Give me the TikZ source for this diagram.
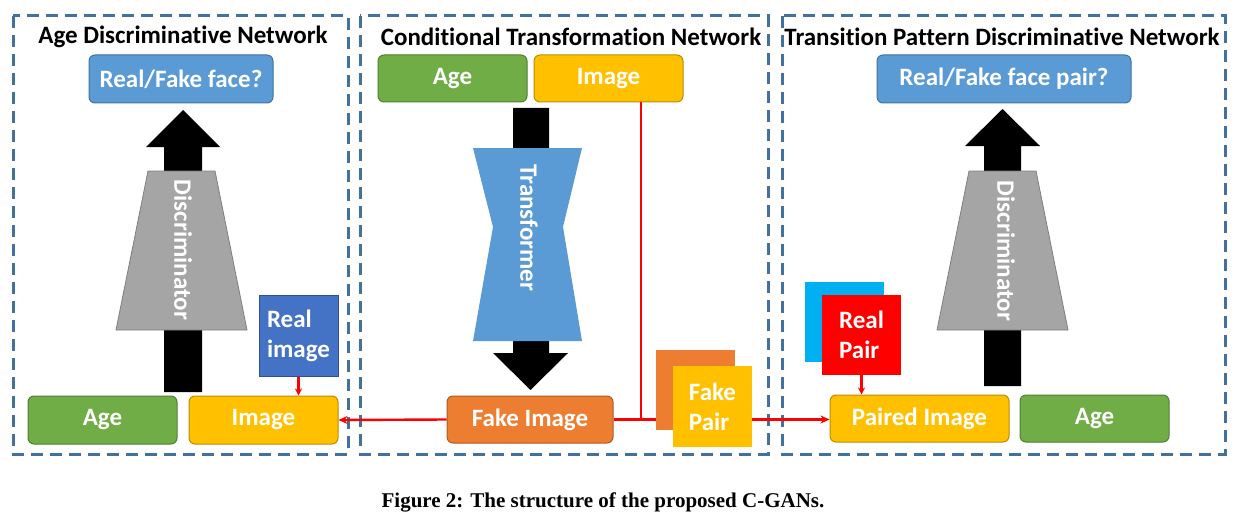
\documentclass[tikz,border=0pt]{standalone}
\usepackage{fontspec}
\setmainfont{Carlito}[Ligatures=NoCommon]
\newfontfamily\capfont{Liberation Serif}
\usetikzlibrary{arrows.meta}
\definecolor{frameblue}{HTML}{41719C}
\definecolor{qblue}{HTML}{5B9BD5}
\definecolor{qblueb}{HTML}{41719C}
\definecolor{agegreen}{HTML}{70AD47}
\definecolor{agegreenb}{HTML}{507E32}
\definecolor{imgyellow}{HTML}{FFC000}
\definecolor{imgyellowb}{HTML}{BC8C00}
\definecolor{fakeorange}{HTML}{ED7D31}
\definecolor{fakeorangeb}{HTML}{AE5A21}
\definecolor{realblue}{HTML}{4472C4}
\definecolor{realblueb}{HTML}{2F528F}
\definecolor{discgray}{HTML}{A5A5A5}
\definecolor{discgrayb}{HTML}{7F7F7F}
\definecolor{pcyan}{HTML}{00B0F0}
\begin{document}
\begin{tikzpicture}[x=1pt,y=-1pt,
  frame/.style={draw=frameblue,line width=3pt,dash pattern=on 12pt off 7pt},
  title/.style={font=\fontsize{25}{28}\selectfont\bfseries,text=black},
  boxtext/.style={text=white,font=\fontsize{25}{30}\selectfont\bfseries,inner sep=0pt},
  rbox/.style={boxtext,rounded corners=6pt,line width=1pt},
  qbox/.style={rbox,fill=qblue,draw=qblueb},
  gbox/.style={rbox,fill=agegreen,draw=agegreenb},
  ybox/.style={rbox,fill=imgyellow,draw=imgyellowb},
  obox/.style={rbox,fill=fakeorange,draw=fakeorangeb},
  sq/.style={boxtext,minimum width=79pt,minimum height=80pt,align=left},
  bigarrow/.style={fill=black},
  disc/.style={fill=discgray,draw=discgrayb,line width=0.8pt},
  rottext/.style={text=white,font=\fontsize{25}{28}\selectfont\bfseries,rotate=-90},
  redline/.style={draw=red,line width=2.4pt},
  redarrow/.style={redline,-{Stealth[length=9pt,width=8pt]}},
  smallarrow/.style={draw=red,line width=2.2pt,-{Stealth[length=7pt,width=7pt]}}
]
\useasboundingbox (0,0) rectangle (1238,524);

% frames
\draw[frame] (13,16) rectangle (348,454);
\draw[frame] (360,16) rectangle (768,454);
\draw[frame] (782,16) rectangle (1225,454);

% titles
\node[title] (t1) at (183,37) {Age Discriminative Network};
\node[title] (t2) at (571,37) {Conditional Transformation Network};
\node[title] (t3) at (1002,37) {Transition Pattern Discriminative Network};

% ---------- left panel
\node[qbox,minimum width=184pt,minimum height=48pt] (lq) at (181,79) {Real/Fake face?};
\fill[bigarrow] (164,392) -- (164,147) -- (146,147) -- (183,110) -- (220,147) -- (202,147) -- (202,392) -- cycle;
\draw[disc] (116,330) -- (148,171) -- (215,171) -- (247,330) -- cycle;
\node[rottext] (d1) at (183,250) {Discriminator};
\node[gbox,minimum width=149pt,minimum height=48pt] (lage) at (102.5,420) {Age};
\node[ybox,minimum width=149pt,minimum height=48pt] (limg) at (263.5,420) {Image};
\node[sq,fill=realblue,draw=realblueb,line width=1pt,minimum height=81pt] (realimg) at (298.5,335.5) {Real\\image};
\draw[smallarrow] (realimg.south) -- (realimg.south |- limg.north);

% ---------- middle panel
\node[gbox,minimum width=149pt,minimum height=47pt] (mage) at (452.5,78.5) {Age};
\node[ybox,minimum width=149pt,minimum height=47pt] (mimg) at (608.5,78.5) {Image};
\fill[bigarrow] (513,108) -- (549,108) -- (549,353) -- (568,353) -- (530.5,390) -- (493,353) -- (513,353) -- cycle;
\fill[qblue] (473,148) -- (582,148) -- (563,227) -- (582,341) -- (473,341) -- (493,227) -- cycle;
\node[rottext] (tr) at (529,228) {Transformer};
\node[obox,minimum width=166pt,minimum height=47pt] (fake) at (530,419.5) {Fake Image};

% ---------- right panel
\node[qbox,minimum width=254pt,minimum height=48pt] (rq) at (1004,79) {Real/Fake face pair?};
\fill[bigarrow] (984,386) -- (984,146) -- (965,146) -- (1002.5,109) -- (1040,146) -- (1021,146) -- (1021,386) -- cycle;
\draw[disc] (937,330) -- (969,171) -- (1036,171) -- (1068,330) -- cycle;
\node[rottext] (d2) at (1006,251) {Discriminator};
\node[ybox,minimum width=179pt,minimum height=47pt] (paired) at (919.5,418.5) {Paired Image};
\node[gbox,minimum width=149pt,minimum height=47pt] (rage) at (1094.5,418.5) {Age};
\node[sq,fill=pcyan] (realpairback) at (844.5,322) {};
\node[sq,fill=red] (realpair) at (861.5,335) {Real\\Pair};
\draw[smallarrow] (realpair.south) -- (realpair.south |- paired.north);

% ---------- connectors
\coordinate (join) at (641,419.5);
\draw[redline] (mimg.south -| join) -- (join);
\draw[redarrow] (fake.west) -- (limg.east);
\draw[redarrow] (fake.east) -- (fake.east -| paired.west);

% fake pair (on top of the line)
\node[sq,fill=fakeorange] (fakepairback) at (695.5,390) {};
\node[sq,fill=imgyellow,minimum height=81pt] (fakepair) at (712.5,406.5) {Fake\\Pair};

% caption
\node[font=\capfont\bfseries\fontsize{21}{24}\selectfont] (cap) at (603,502) {Figure 2: The structure of the proposed C-GANs.};
\end{tikzpicture}
\end{document}
